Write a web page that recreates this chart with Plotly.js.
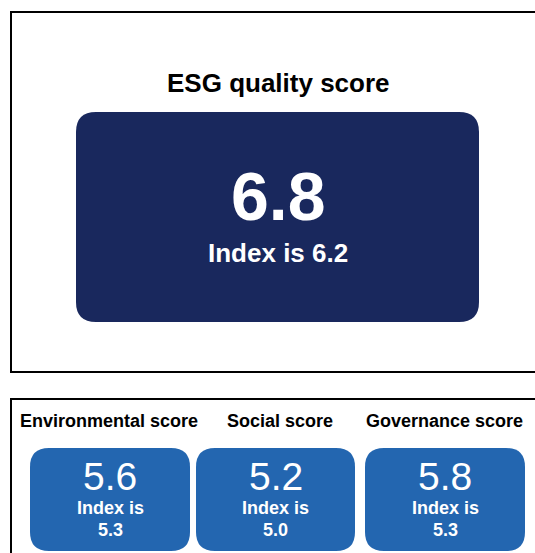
<!DOCTYPE html>
<html>
<head>
<meta charset="utf-8">
<script src="https://cdn.plot.ly/plotly-3.0.1.min.js"></script>
<style>html,body{margin:0;padding:0;background:#fff;}#chart{width:535px;height:553px;}</style>
</head>
<body>
<div id="chart"></div>
<script>
// ---- data ----
const mainTitle = 'ESG quality score';
const mainScore = [6.8];
const mainIndex = [6.2];
const pillarNames = ['Environmental score', 'Social score', 'Governance score'];
const pillarScores = [5.6, 5.2, 5.8];
const pillarIndex = [5.3, 5.0, 5.3];

// ---- layout helpers ----
const FONT = 'Liberation Sans, Arial, Helvetica, sans-serif';
const NAVY = '#19285d';
const BLUE = '#2366b0';

function roundRect(x0, y0, x1, y1, r) {
  return `M${x0 + r},${y0} L${x1 - r},${y0} Q${x1},${y0} ${x1},${y0 + r} ` +
         `L${x1},${y1 - r} Q${x1},${y1} ${x1 - r},${y1} L${x0 + r},${y1} ` +
         `Q${x0},${y1} ${x0},${y1 - r} L${x0},${y0 + r} Q${x0},${y0} ${x0 + r},${y0} Z`;
}

const shapes = [
  {type: 'rect', xref: 'x', yref: 'y', x0: 11, x1: 545, y0: 12, y1: 372, line: {color: '#000', width: 2}, fillcolor: 'rgba(0,0,0,0)'},
  {type: 'rect', xref: 'x', yref: 'y', x0: 11, x1: 545, y0: 399, y1: 570, line: {color: '#000', width: 2}, fillcolor: 'rgba(0,0,0,0)'},
  {type: 'path', xref: 'x', yref: 'y', path: roundRect(76, 112, 479, 322, 20), fillcolor: NAVY, line: {width: 0}}
];

const boxX = [[30, 190], [196, 355], [365, 525]];
const annotations = [
  {x: 278, y: 83, text: '<b>' + mainTitle + '</b>', font: {size: 26, color: '#000', family: FONT}},
  {x: 278, y: 196, text: '<b>' + mainScore[0].toFixed(1) + '</b>', font: {size: 68, color: '#fff', family: FONT}},
  {x: 278, y: 253, text: '<b>Index is ' + mainIndex[0].toFixed(1) + '</b>', font: {size: 26, color: '#fff', family: FONT}}
];

const titleX = [109, 280, 444];
pillarNames.forEach((name, i) => {
  const [x0, x1] = boxX[i];
  const cx = (x0 + x1) / 2;
  shapes.push({type: 'path', xref: 'x', yref: 'y', path: roundRect(x0, 448, x1, 551, 19), fillcolor: BLUE, line: {width: 0}});
  annotations.push({x: titleX[i], y: 421, text: '<b>' + name + '</b>', font: {size: 18, color: '#000', family: FONT}});
  annotations.push({x: cx, y: 476, text: pillarScores[i].toFixed(1), font: {size: 39, color: '#fff', family: FONT}});
  annotations.push({x: cx, y: 508, text: '<b>Index is</b>', font: {size: 18, color: '#fff', family: FONT}});
  annotations.push({x: cx, y: 530, text: '<b>' + pillarIndex[i].toFixed(1) + '</b>', font: {size: 18, color: '#fff', family: FONT}});
});
annotations.forEach(a => { a.xref = 'x'; a.yref = 'y'; a.showarrow = false; a.xanchor = 'center'; a.yanchor = 'middle'; });

const layout = {
  width: 535, height: 553,
  margin: {l: 0, r: 0, t: 0, b: 0},
  paper_bgcolor: '#fff', plot_bgcolor: '#fff',
  xaxis: {range: [0, 535], visible: false, fixedrange: true},
  yaxis: {range: [553, 0], visible: false, fixedrange: true},
  showlegend: false,
  shapes: shapes,
  annotations: annotations
};

Plotly.newPlot('chart', [{x: [], y: [], type: 'scatter', mode: 'markers', hoverinfo: 'skip'}], layout, {displayModeBar: false, staticPlot: true});
</script>
</body>
</html>
